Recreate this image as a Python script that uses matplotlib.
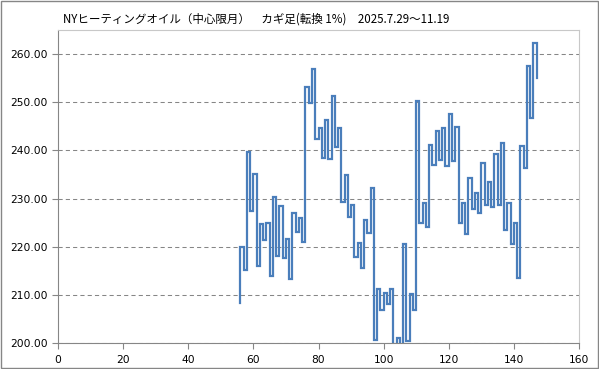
import numpy as np
import matplotlib.pyplot as plt
from matplotlib.patches import Rectangle
from matplotlib.ticker import FormatStrFormatter

plt.rcParams['font.family'] = ['Noto Sans CJK JP', 'DejaVu Sans']

title = 'NYヒーティングオイル（中心限月）　カギ足(転換 1%)　2025.7.29～11.19'

# kagi line: start price, then the price level at each reversal (one x step per reversal)
first_x = 56
start_price = 208.4
levels = [219.9, 215.1, 239.7, 227.5, 235.0, 216.0, 224.7, 221.3, 224.9, 214.0,
          230.3, 218.1, 228.4, 217.6, 221.7, 213.2, 226.9, 223.1, 225.9, 220.9,
          253.2, 249.9, 256.9, 242.3, 244.7, 238.5, 246.4, 238.3, 251.3, 240.7,
          244.7, 229.2, 234.9, 226.1, 228.7, 217.9, 220.8, 215.6, 225.6, 222.8,
          232.2, 200.7, 211.3, 206.9, 210.3, 208.2, 211.3, 199.0, 201.0, 199.0,
          220.5, 200.4, 210.1, 206.9, 250.3, 224.9, 229.0, 224.0, 241.2, 236.9,
          244.1, 238.1, 244.7, 236.7, 247.6, 237.7, 244.9, 225.0, 229.0, 222.6,
          234.2, 227.8, 231.1, 226.9, 237.4, 228.6, 233.4, 228.2, 239.3, 228.6,
          241.5, 223.5, 229.0, 220.6, 224.9, 213.6, 240.9, 236.4, 257.6, 246.7,
          262.4, 255.0]

xs = np.concatenate([[first_x], first_x + np.arange(len(levels))])
ys = np.concatenate([[start_price], levels])

fig = plt.figure(figsize=(5.99, 3.69), dpi=100)
ax = fig.add_axes([58/599, 1 - 343/369, 521/599, 313/369])

ax.step(xs, ys, where='post', color='#4a7ebb', lw=1.6, solid_joinstyle='miter')

ax.set_xlim(0, 160)
ax.set_ylim(200, 265)
ax.set_xticks(np.arange(0, 161, 20))
ax.set_yticks(np.arange(200, 261, 10))
ax.yaxis.set_major_formatter(FormatStrFormatter('%.2f'))
ax.grid(axis='y', color='#868686', ls=(0, (4, 3)), lw=0.75)
ax.set_axisbelow(True)
for s in ['left', 'bottom']:
    ax.spines[s].set_color('#868686')
for s in ['top', 'right']:
    ax.spines[s].set_color('#c8c8c8')
ax.tick_params(axis='both', colors='#868686', labelcolor='black', labelsize=7.7,
               length=4, width=0.8)
ax.tick_params(axis='x', pad=4.5)
for lab in ax.get_xticklabels() + ax.get_yticklabels():
    lab.set_family('DejaVu Sans')

fig.text(63/599, 1 - 19/369, title, fontsize=8.3, va='center', ha='left')
fig.patches.append(Rectangle((0.001, 0.002), 0.997, 0.996, transform=fig.transFigure,
                             fill=False, ec='#868686', lw=1))

plt.savefig('out.png', dpi=100)
